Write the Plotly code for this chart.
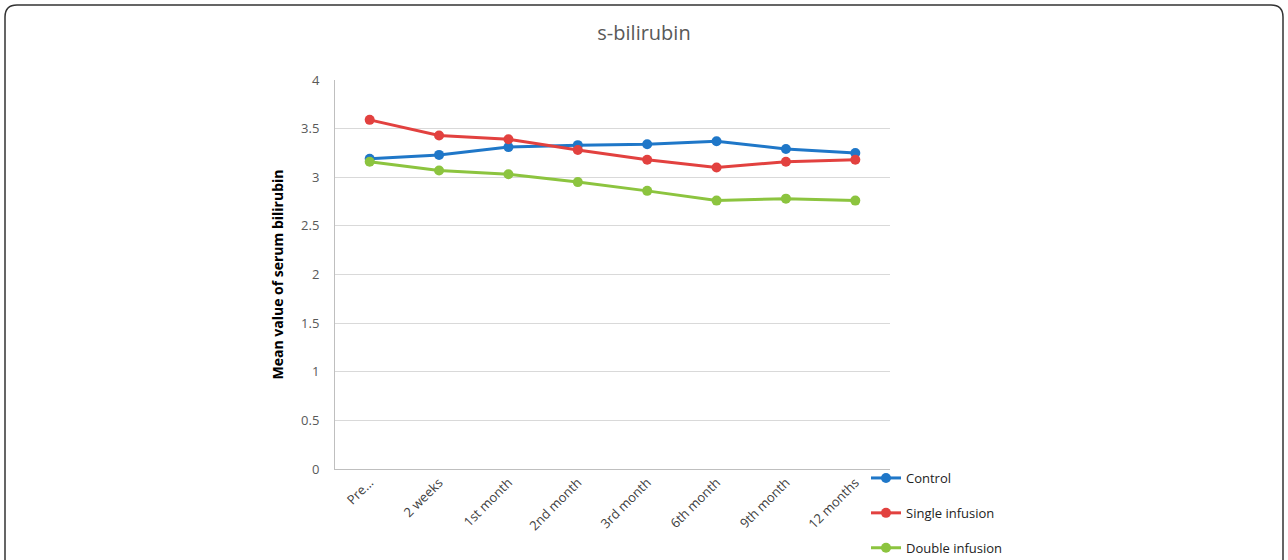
import plotly.graph_objects as go

categories = ["Pre...", "2 weeks", "1st month", "2nd month", "3rd month", "6th month", "9th month", "12 months"]
control = [3.19, 3.23, 3.31, 3.33, 3.34, 3.37, 3.29, 3.25]
single_infusion = [3.59, 3.43, 3.39, 3.28, 3.18, 3.10, 3.16, 3.18]
double_infusion = [3.16, 3.07, 3.03, 2.95, 2.86, 2.76, 2.78, 2.76]
y_ticks = [0, 0.5, 1, 1.5, 2, 2.5, 3, 3.5, 4]
y_tick_labels = ["0", "0.5", "1", "1.5", "2", "2.5", "3", "3.5", "4"]

series = [
    ("Control", control, "#1f77c8"),
    ("Single infusion", single_infusion, "#e2413f"),
    ("Double infusion", double_infusion, "#8cc43f"),
]

fig = go.Figure()
for i, (name, vals, col) in enumerate(series):
    fig.add_trace(go.Scatter(
        x=categories, y=vals, name=name, mode="lines+markers",
        line=dict(color=col, width=3),
        marker=dict(color=col, size=10),
        legendgroup=f"g{i}",
    ))

L, R, T, B = 335, 398, 80, 91
W, H = 1288, 560
pw, ph = W - L - R, H - T - B

def px(x):
    return (x - L) / pw

def py(y):
    return (H - B - y) / ph

# rounded border path in paper coords
x0, x1, y0, y1, r = 5, 1283, 5, 600, 12
path = (
    f"M {px(x0 + r)},{py(y0)} L {px(x1 - r)},{py(y0)} "
    f"Q {px(x1)},{py(y0)} {px(x1)},{py(y0 + r)} L {px(x1)},{py(y1)} "
    f"L {px(x0)},{py(y1)} L {px(x0)},{py(y0 + r)} "
    f"Q {px(x0)},{py(y0)} {px(x0 + r)},{py(y0)} Z"
)

fig.update_layout(
    width=W, height=H,
    margin=dict(l=L, r=R, t=T, b=B, autoexpand=False),
    paper_bgcolor="white", plot_bgcolor="white",
    title=dict(text="s-bilirubin", x=0.5, xref="container", xanchor="center",
               y=1 - 33 / H, yanchor="middle",
               font=dict(family="Open Sans, sans-serif", size=20, color="#595959")),
    font=dict(family="Open Sans, sans-serif"),
    showlegend=True,
    legend=dict(x=px(866), y=py(463), xanchor="left", yanchor="top",
                font=dict(size=13, color="#222222"), tracegroupgap=15,
                bgcolor="rgba(0,0,0,0)"),
    shapes=[dict(type="path", path=path, xref="paper", yref="paper",
                 line=dict(color="#333333", width=1.5), layer="below")],
)
fig.update_xaxes(
    type="category", range=[-0.5, 7.5], showgrid=False, automargin=False,
    showline=True, linecolor="#bfbfbf", linewidth=1,
    ticks="", tickangle=-45, tickfont=dict(size=13, color="#404040"),
)
fig.update_yaxes(
    range=[0, 4], tickvals=y_ticks, ticktext=y_tick_labels, automargin=False,
    showgrid=True, gridcolor="#d9d9d9", gridwidth=1,
    showline=True, linecolor="#bfbfbf", linewidth=1, zeroline=False,
    ticks="", ticklabelstandoff=12,
    tickfont=dict(size=13, color="#595959"),
    title=dict(text="<b>Mean value of serum bilirubin</b>", standoff=14,
               font=dict(size=14, color="#000000")),
)

fig.write_html("out.html")
